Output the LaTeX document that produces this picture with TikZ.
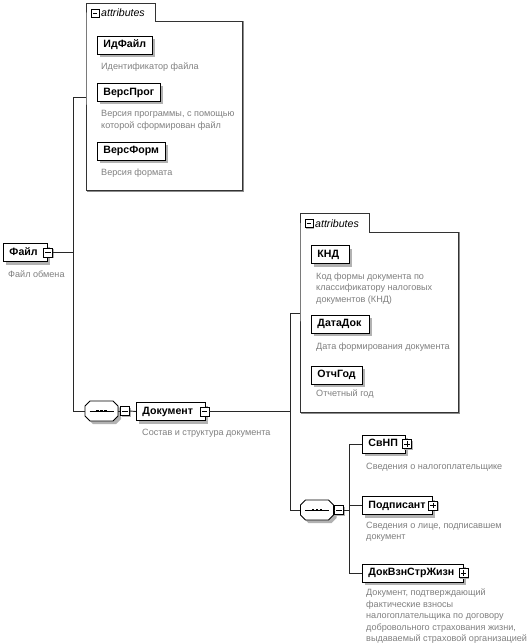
\documentclass[tikz,border=0pt]{standalone}
\usepackage{fontspec}
\setmainfont{Liberation Sans}
\usetikzlibrary{shadows}
\definecolor{desccol}{RGB}{128,128,128}
\definecolor{linecol}{RGB}{40,40,40}
\newcommand{\lbox}[2]{\makebox[#1][l]{#2}}
\tikzset{
  elem/.style={draw=black, fill=white, anchor=west, inner xsep=6pt, inner ysep=0pt,
    minimum height=18pt, text height=7.6pt, text depth=2.2pt, line width=0.9pt,
    font=\bfseries\fontsize{10.6}{12}\selectfont,
    drop shadow={shadow xshift=3pt, shadow yshift=-3pt, fill=black!30, opacity=1}},
  desc/.style={anchor=north west, inner sep=0pt, align=left, text=desccol,
    font=\fontsize{9.1}{11.6}\selectfont},
  iconbase/.style={draw=black, fill=white, minimum size=9pt, inner sep=0pt, line width=0.8pt,
    drop shadow={shadow xshift=1.2pt, shadow yshift=-1.2pt, fill=black!30, opacity=1}},
  iconminus/.style={iconbase, path picture={\draw[line width=0.8pt]
      ([xshift=1.8pt]path picture bounding box.west) -- ([xshift=-1.8pt]path picture bounding box.east);}},
  iconplus/.style={iconbase, path picture={\draw[line width=0.8pt]
      ([xshift=1.8pt]path picture bounding box.west) -- ([xshift=-1.8pt]path picture bounding box.east)
      ([yshift=-1.8pt]path picture bounding box.north) -- ([yshift=1.8pt]path picture bounding box.south);}},
  seqnode/.style={minimum width=33pt, minimum height=20pt, inner sep=0pt},
  attrbox/.style={draw=black!80, fill=white, line width=0.8pt},
  attrshadow/.style={draw=black!45, line width=1.6pt},
  attrlabel/.style={anchor=west, inner sep=0pt, font=\itshape\fontsize{10.6}{12}\selectfont},
  conn/.style={draw=linecol, line width=0.9pt},
}
\newcommand{\octpath}{(-16.5,-5) -- (-11.5,-10) -- (11.5,-10) -- (16.5,-5) -- (16.5,5) -- (11.5,10) -- (-11.5,10) -- (-16.5,5) -- cycle}
\newcommand{\seqdecor}[1]{%
  \fill[black!30, shift={(#1.center)}, xshift=3pt, yshift=-3pt] \octpath;
  \draw[fill=white, line width=0.8pt, shift={(#1.center)}] \octpath;
  \draw[line width=0.8pt] ([xshift=-12pt]#1.center) -- ([xshift=12pt]#1.center);
  \foreach \dx in {-4,0,4} \fill ([xshift=\dx pt]#1.center) +(-1.4,-1.4) rectangle +(1.4,1.4);
}
\begin{document}
\begin{tikzpicture}[x=1pt, y=-1pt]
\fill[white] (0,0) rectangle (529,644);
\useasboundingbox (0,0) rectangle (529,644);

% ---------- attributes box 1 ----------
\draw[attrshadow] (156.5,21.5) -- (243.5,21.5) -- (243.5,191.5) -- (87,191.5);
\draw[attrbox] (86,21) -- (86,3) -- (155,3) -- (155,21) -- (242,21) -- (242,190) -- (86,190) -- cycle;
\coordinate (a1in) at (86,97);
\node[iconminus, minimum size=8pt] (a1icon) at (95,13) {};
\node[attrlabel] (a1lab) at (101,13) {attributes};

\node[elem] (idf) at (97,45) {\lbox{43pt}{ИдФайл}};
\node[desc] (idfd) at (101,62.5) {Идентификатор файла};
\node[elem] (vprog) at (97,92.5) {\lbox{51pt}{ВерсПрог}};
\node[desc] (vprogd) at (101,110.5) {Версия программы, с помощью\\которой сформирован файл};
\node[elem] (vform) at (97,151) {\lbox{56pt}{ВерсФорм}};
\node[desc] (vformd) at (101,168.5) {Версия формата};

% ---------- root ----------
\node[elem] (file) at (3,252.5) {\lbox{32pt}{Файл}};
\node[iconminus] (fileicon) at (48,252.5) {};
\node[desc] (filed) at (8,270.5) {Файл обмена};

% ---------- sequence 1 ----------
\node[seqnode] (seq1) at (101.5,411) {};
\seqdecor{seq1}
\node[iconminus] (seq1icon) at (125,411) {};

\node[elem] (doc) at (136,411.5) {\lbox{57pt}{Документ}};
\node[iconminus] (docicon) at (204.5,411.5) {};
\node[desc] (docd) at (142,428.5) {Состав и структура документа};

% ---------- attributes box 2 ----------
\draw[attrshadow] (370.5,232.5) -- (459.5,232.5) -- (459.5,413.5) -- (301,413.5);
\draw[attrbox] (300,232) -- (300,213) -- (369,213) -- (369,232) -- (458,232) -- (458,412) -- (300,412) -- cycle;
\coordinate (a2in) at (300,313);
\node[iconminus, minimum size=8pt] (a2icon) at (309,223.5) {};
\node[attrlabel] (a2lab) at (315,223.5) {attributes};

\node[elem] (knd) at (311,254.5) {\lbox{26pt}{КНД}};
\node[desc] (kndd) at (316,272.5) {Код формы документа по\\классификатору налоговых\\документов (КНД)};
\node[elem] (datadok) at (311,324) {\lbox{46pt}{ДатаДок}};
\node[desc] (datadokd) at (316,342.5) {Дата формирования документа};
\node[elem] (otchgod) at (311,375) {\lbox{39pt}{ОтчГод}};
\node[desc] (otchgodd) at (316,389.5) {Отчетный год};

% ---------- sequence 2 ----------
\node[seqnode] (seq2) at (317,510) {};
\seqdecor{seq2}
\node[iconminus] (seq2icon) at (339,510) {};

\node[elem] (svnp) at (362,444) {\lbox{31pt}{СвНП}};
\node[iconplus] (svnpicon) at (407,444) {};
\node[desc] (svnpd) at (366,462.5) {Сведения о налогоплательщике};

\node[elem] (podp) at (362,505.5) {\lbox{58pt}{Подписант}};
\node[iconplus] (podpicon) at (433,505.5) {};
\node[desc] (podpd) at (366,521.5) {Сведения о лице, подписавшем\\документ};

\node[elem] (dok) at (362,573) {\lbox{89pt}{ДокВзнСтрЖизн}};
\node[iconplus] (dokicon) at (463.5,573) {};
\node[desc] (dokd) at (366,588.5) {Документ, подтверждающий\\фактические взносы\\налогоплательщика по договору\\добровольного страхования жизни,\\выдаваемый страховой организацией};

% ---------- connectors ----------
\coordinate (bus1) at (73,97);
\coordinate (bus2) at (290,313);
\coordinate (bus3) at (349,510);
\draw[conn] (a1in) -- (bus1) |- (seq1.west);
\draw[conn] (fileicon.east) -- (fileicon.east -| bus1);
\draw[conn] (seq1.east) -- (seq1icon.west);
\draw[conn] (seq1icon.east) -- (doc.west);
\draw[conn] (a2in) -- (bus2) |- (seq2.west);
\draw[conn] (docicon.east) -- (docicon.east -| bus2);
\draw[conn] (seq2.east) -- (seq2icon.west);
\draw[conn] (seq2icon.east) -- (bus3);
\draw[conn] (svnp.west) -- (svnp.west -| bus3) -- (dok.west -| bus3) -- (dok.west);
\draw[conn] (podp.west) -- (podp.west -| bus3);
\end{tikzpicture}
\end{document}
